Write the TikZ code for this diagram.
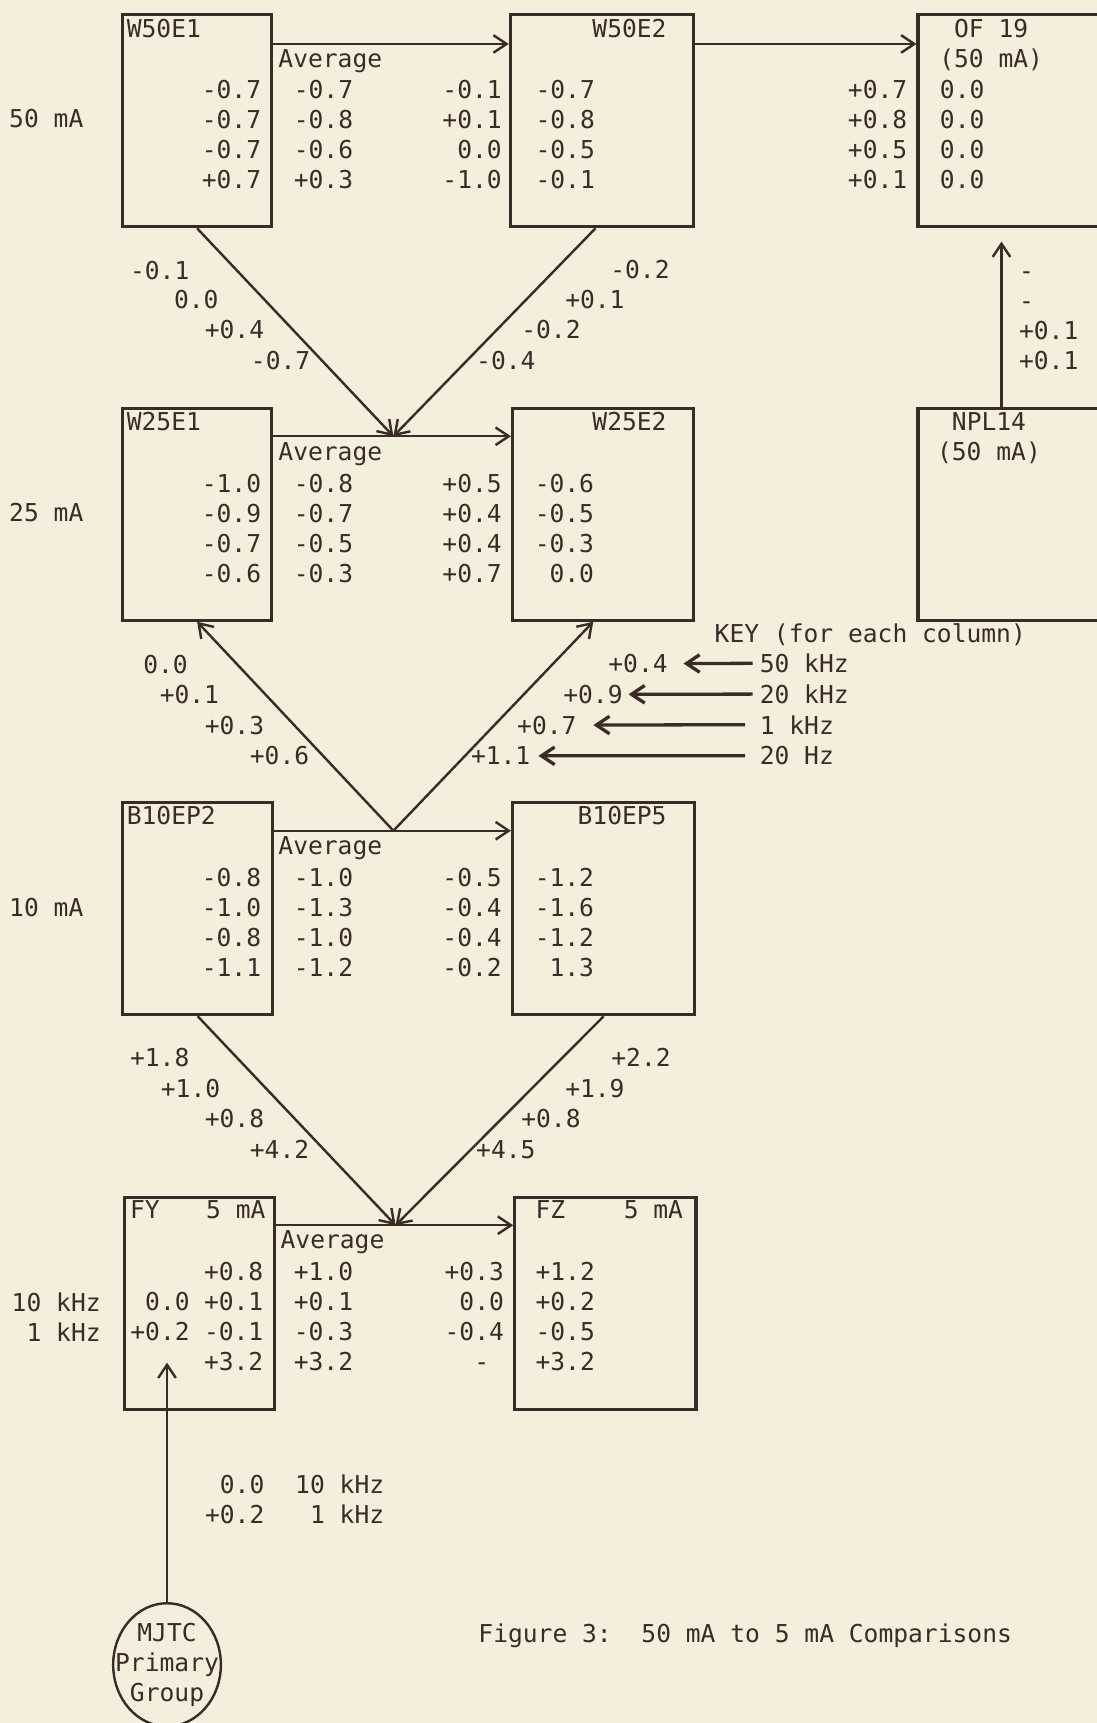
\documentclass[tikz,border=0pt]{standalone}
\usepackage{fontspec}
\setmonofont{DejaVu Sans Mono}
\usepackage{tikz}
\usetikzlibrary{shapes.geometric, arrows.meta}
\definecolor{ScanCream}{HTML}{F4EEDC}
\definecolor{ScanInk}{HTML}{3A2B27}

\begin{document}
\begin{tikzpicture}[
    x=0.5pt, y=-0.5pt,
    box/.style={draw=ScanInk, line width=1.4pt, anchor=north west, inner sep=0pt, minimum height=96.5pt},
    txt/.style={text=ScanInk, inner sep=0pt, font=\ttfamily\fontsize{11.2}{13.65}\selectfont},
    lcol/.style={txt, align=left, anchor=north west},
    rcol/.style={txt, align=right, anchor=north east},
    tl/.style={txt, anchor=base west},
    tr/.style={txt, anchor=base east},
    arr/.style={-{Straight Barb[length=6pt, width=8pt]}, line width=1.1pt, ScanInk},
    keyarr/.style={arr, line width=1.5pt}
]
    \path[use as bounding box, fill=ScanCream] (0,0) rectangle (998,1568);

    % boxes
    \node[box, minimum width=68pt]   (w50e1)  at (110,12)   {};
    \node[box, minimum width=83.5pt] (w50e2)  at (463,12)   {};
    \node[box, minimum width=85pt]   (of19)   at (834,12)   {};
    \node[box, minimum width=68pt]   (w25e1)  at (110,370)  {};
    \node[box, minimum width=82.5pt] (w25e2)  at (465,370)  {};
    \node[box, minimum width=85pt]   (npl14)  at (834,370)  {};
    \node[box, minimum width=68.5pt] (b10ep2) at (110,729)  {};
    \node[box, minimum width=83pt]   (b10ep5) at (465,729)  {};
    \node[box, minimum width=68pt]   (fy)     at (112,1088) {};
    \node[box, minimum width=82.5pt] (fz)     at (467,1088) {};
    \node[txt, draw=ScanInk, line width=1.1pt, ellipse, align=center, inner sep=-7pt,
          minimum width=49pt, minimum height=56pt] (mjtc) at (152,1515) {MJTC\\Primary\\Group};

    \coordinate (m25) at (358,397);
    \coordinate (m10) at (358,756);
    \coordinate (m5)  at (360,1115);
    \coordinate (fyin) at (152,1240);

    % 50 mA
    \node[tl] (lab50) at (8,116) {50 mA};
    \node[tl] (w50e1t) at (115,34) {W50E1};
    \node[rcol] (w50e1v) at (238,73) {-0.7\\-0.7\\-0.7\\+0.7};
    \node[tl] (avg50t) at (253,61) {Average};
    \node[lcol] (avg50v) at (267,73) {-0.7\\-0.8\\-0.6\\+0.3};
    \node[rcol] (dif50v) at (457,73) {-0.1\\+0.1\\0.0\\-1.0};
    \node[tr] (w50e2t) at (607,34) {W50E2};
    \node[lcol] (w50e2v) at (487,73) {-0.7\\-0.8\\-0.5\\-0.1};
    \node[txt, align=center, anchor=north] (of19t) at (902,17) {OF 19\\(50 mA)};
    \node[rcol] (of19d) at (826,73) {+0.7\\+0.8\\+0.5\\+0.1};
    \node[lcol] (of19v) at (855,73) {0.0\\0.0\\0.0\\0.0};

    \node[tl] (d50a) at (118,254) {-0.1};
    \node[tl] (d50b) at (158,281) {0.0};
    \node[tl] (d50c) at (186,308) {+0.4};
    \node[tl] (d50d) at (228,336) {-0.7};
    \node[tl] (e50a) at (555,253) {-0.2};
    \node[tl] (e50b) at (514,281) {+0.1};
    \node[tl] (e50c) at (474,308) {-0.2};
    \node[tl] (e50d) at (433,336) {-0.4};
    \node[lcol] (nplv) at (927,237) {\vphantom{0}-\\-\\+0.1\\+0.1};

    % 25 mA
    \node[tl] (lab25) at (8,475) {25 mA};
    \node[tl] (w25e1t) at (115,392) {W25E1};
    \node[rcol] (w25e1v) at (238,431) {-1.0\\-0.9\\-0.7\\-0.6};
    \node[tl] (avg25t) at (253,419) {Average};
    \node[lcol] (avg25v) at (267,431) {-0.8\\-0.7\\-0.5\\-0.3};
    \node[rcol] (dif25v) at (457,431) {+0.5\\+0.4\\+0.4\\+0.7};
    \node[tr] (w25e2t) at (607,392) {W25E2};
    \node[rcol] (w25e2v) at (541,431) {-0.6\\-0.5\\-0.3\\0.0};
    \node[txt, align=center, anchor=north] (npl14t) at (900,375) {NPL14\\(50 mA)};

    % key
    \node[tl] (keyt) at (650,585) {KEY (for each column)};
    \node[tr] (kv50) at (608,612) {+0.4};
    \node[tl] (k50)  at (691,612) {50 kHz};
    \node[tr] (kv20) at (567,640) {+0.9};
    \node[tl] (k20)  at (691,640) {20 kHz};
    \node[tr] (kv1)  at (525,668) {+0.7};
    \node[tl] (k1)   at (691,668) {1 kHz};
    \node[tr] (kv20h) at (483,696) {+1.1};
    \node[tl] (k20h) at (691,696) {20 Hz};

    \node[tl] (d25a) at (130,613) {0.0};
    \node[tl] (d25b) at (145,640) {+0.1};
    \node[tl] (d25c) at (186,668) {+0.3};
    \node[tl] (d25d) at (227,696) {+0.6};

    % 10 mA
    \node[tl] (lab10) at (8,834) {10 mA};
    \node[tl] (b10ep2t) at (115,750) {B10EP2};
    \node[rcol] (b10ep2v) at (238,790) {-0.8\\-1.0\\-0.8\\-1.1};
    \node[tl] (avg10t) at (253,778) {Average};
    \node[lcol] (avg10v) at (267,790) {-1.0\\-1.3\\-1.0\\-1.2};
    \node[rcol] (dif10v) at (457,790) {-0.5\\-0.4\\-0.4\\-0.2};
    \node[tr] (b10ep5t) at (607,750) {B10EP5};
    \node[rcol] (b10ep5v) at (541,790) {-1.2\\-1.6\\-1.2\\1.3};

    \node[tl] (d10a) at (118,971) {+1.8};
    \node[tl] (d10b) at (146,999) {+1.0};
    \node[tl] (d10c) at (186,1026) {+0.8};
    \node[tl] (d10d) at (227,1054) {+4.2};
    \node[tl] (e10a) at (556,971) {+2.2};
    \node[tl] (e10b) at (514,999) {+1.9};
    \node[tl] (e10c) at (474,1026) {+0.8};
    \node[tl] (e10d) at (433,1054) {+4.5};

    % 5 mA
    \node[tl] (fyt)  at (118,1109) {FY};
    \node[tr] (fyma) at (242,1109) {5 mA};
    \node[rcol] (fyv) at (240,1148) {+0.8\\+0.1\\-0.1\\+3.2};
    \node[rcol] (fyl) at (173,1176) {0.0\\+0.2};
    \node[rcol] (lab5) at (92,1176) {10 kHz\\1 kHz};
    \node[tl] (avg5t) at (255,1136) {Average};
    \node[lcol] (avg5v) at (267,1148) {+1.0\\+0.1\\-0.3\\+3.2};
    \node[rcol] (dif5v) at (459,1148) {+0.3\\0.0\\-0.4\\-\hphantom{0}};
    \node[tl] (fzt)  at (487,1109) {FZ};
    \node[tr] (fzma) at (622,1109) {5 mA};
    \node[lcol] (fzv) at (487,1148) {+1.2\\+0.2\\-0.5\\+3.2};

    \node[rcol] (mjd) at (241,1342) {0.0\\+0.2};
    \node[rcol] (mjf) at (350,1342) {10 kHz\\1 kHz};
    \node[tl] (caption) at (435,1495) {Figure 3:~~50 mA to 5 mA Comparisons};

    % connections
    \draw[arr] ([yshift=-14pt]w50e1.north east) -- ([yshift=-14pt]w50e2.north west);
    \draw[arr] ([yshift=-14pt]w50e2.north east) -- ([yshift=-14pt]of19.north west);
    \draw[arr] (w50e1.south) -- (m25);
    \draw[arr] ([xshift=-3pt]w50e2.south) -- (m25);
    \draw[arr] ([yshift=-13.5pt]w25e1.north east) -- ([yshift=-13.5pt]w25e2.north west);
    \draw[arr] ([xshift=-4.5pt]npl14.north) -- ([xshift=-4.5pt, yshift=-6pt]of19.south);
    \draw[arr] (m10) -- (w25e1.south);
    \draw[arr] (m10) -- ([xshift=-4.5pt]w25e2.south);
    \draw[arr] ([yshift=-13.5pt]b10ep2.north east) -- ([yshift=-13.5pt]b10ep5.north west);
    \draw[arr] (b10ep2.south) -- (m5);
    \draw[arr] (b10ep5.south) -- (m5);
    \draw[arr] ([yshift=-13.5pt]fy.north east) -- ([yshift=-13.5pt]fz.north west);
    \draw[arr] (mjtc.north) -- (fyin);

    \draw[keyarr] ([xshift=-3pt]k50.west) -- ([xshift=7pt]kv50.east);
    \draw[keyarr] ([xshift=-3pt]k20.west) -- ([xshift=2.5pt]kv20.east);
    \draw[keyarr] ([xshift=-6.5pt]k1.west) -- ([xshift=7.5pt]kv1.east);
    \draw[keyarr] ([xshift=-6.5pt]k20h.west) -- ([xshift=3.5pt]kv20h.east);
\end{tikzpicture}
\end{document}
